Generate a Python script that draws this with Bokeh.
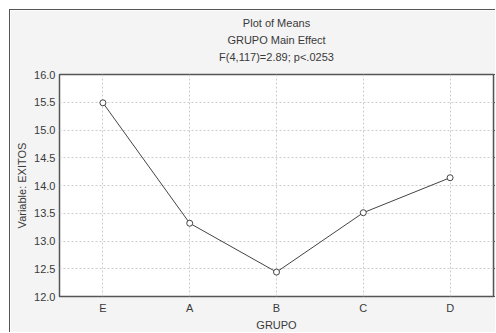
from bokeh.plotting import figure
from bokeh.models import Title, LinearAxis, Range1d, FixedTicker, NumeralTickFormatter
from bokeh.embed import file_html
from bokeh.resources import INLINE

categories = ["E", "A", "B", "C", "D"]
means = [15.49, 13.32, 12.44, 13.51, 14.14]
title_lines = ["Plot of Means", "GRUPO Main Effect", "F(4,117)=2.89; p<.0253"]
y_ticks = [12.0, 12.5, 13.0, 13.5, 14.0, 14.5, 15.0, 15.5, 16.0]

FONT = "Liberation Sans"
TXT = "#3a3a3a"
FRAME = "#555555"

p = figure(width=486, height=323, x_range=categories, y_range=Range1d(12.0, 16.0),
           output_backend="svg", toolbar_location=None, title=None,
           min_border_left=49, min_border_right=3, min_border_top=64, min_border_bottom=37,
           margin=(9, 0, 0, 9),
           styles={"border-left": "1px solid #555555", "border-top": "1px solid #555555"})
p.border_fill_color = "#f4f4f4"
p.background_fill_color = "white"
p.outline_line_color = FRAME
p.outline_line_width = 1.5

p.x_range.range_padding = 0

for g in (p.xgrid, p.ygrid):
    g.grid_line_color = "#cccccc"
    g.grid_line_dash = "2 2"
    g.grid_line_width = 1

p.yaxis.ticker = FixedTicker(ticks=y_ticks)
p.yaxis.formatter = NumeralTickFormatter(format="0.0")

for ax in (p.xaxis, p.yaxis):
    ax.axis_line_color = None
    ax.major_tick_line_color = None
    ax.minor_tick_line_color = None
    ax.major_tick_out = 0
    ax.major_tick_in = 0
    ax.minor_tick_out = 0
    ax.minor_tick_in = 0
    ax.major_label_text_font = FONT
    ax.major_label_text_font_size = "11px"
    ax.major_label_text_color = TXT
    ax.axis_label_text_font = FONT
    ax.axis_label_text_font_size = "11px"
    ax.axis_label_text_font_style = "normal"
    ax.axis_label_text_color = TXT

p.yaxis.axis_label = "Variable: EXITOS"
p.yaxis.major_label_standoff = 4
p.yaxis.axis_label_standoff = 3
p.xaxis.axis_label = "GRUPO"
p.xaxis.major_label_standoff = 5
p.xaxis.axis_label_standoff = 2

# right axis: small outward ticks, no labels
rax = LinearAxis(ticker=FixedTicker(ticks=y_ticks), axis_line_color=None,
                 major_tick_line_color=FRAME, major_tick_out=3, major_tick_in=0,
                 minor_tick_line_color=None, minor_tick_out=0, minor_tick_in=0,
                 major_label_standoff=0,
                 major_label_overrides={t: "" for t in y_ticks})
p.add_layout(rax, "right")

p.line(categories, means, line_color="#444444", line_width=1)
p.scatter(categories, means, marker="circle", size=6, fill_color="white",
          line_color="#444444", line_width=1)

# spacer between the frame and the title block
p.add_layout(Title(text=" ", text_font_size="1px", standoff=7), "above")
# title lines: first added sits nearest the frame
for t in reversed(title_lines):
    p.add_layout(Title(text=t, align="center",
                       text_font=FONT, text_font_size="11px",
                       text_font_style="normal", text_color=TXT,
                       standoff=3, offset=0), "above")

open("out.html", "w").write(file_html(p, INLINE))
